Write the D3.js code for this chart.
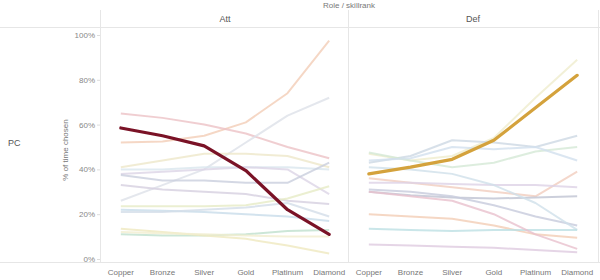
<!DOCTYPE html>
<html lang="en">
<head>
  <meta charset="UTF-8">
  <title>Role / skillrank</title>
  <script src="https://d3js.org/d3.v7.min.js"></script>
  <style>
    body { margin: 0; background: #fff; font-family: "Liberation Sans", Arial, sans-serif; }
    .frame { stroke: #e6e6e6; stroke-width: 1; }
    .lbl { fill: #777; font-size: 8px; }
    .hdr { fill: #555; font-size: 9px; }
  </style>
</head>
<body>
  <div id="chart"></div>
  <script>
    // categories and tick labels
    const ranks = ["Copper", "Bronze", "Silver", "Gold", "Platinum", "Diamond"];
    const roles = ["Att", "Def"];
    const yTicks = [0, 0.2, 0.4, 0.6, 0.8, 1.0];

    // Att panel, faint operators (% of time chosen)
    const attFaint = [
      [52, 52.5, 55, 61, 74, 97.5],
      [65, 63, 60, 56, 50, 45],
      [26, 33, 40, 52, 64, 72],
      [41, 44, 47, 47, 46, 41],
      [40, 40, 41, 41, 41, 40],
      [38, 39, 40, 41, 40, 29],
      [37.5, 35, 35, 34, 34, 43],
      [33, 31, 30, 29, 26, 24.5],
      [23.5, 23.5, 23.5, 24, 27, 32.5],
      [22, 21.5, 21, 20, 19, 17],
      [21, 21, 22, 23, 25, 19],
      [11, 10.5, 10.5, 11, 12.5, 13],
      [13.5, 12, 10.5, 9, 6, 2.5],
      [12, 11.5, 11, 10.5, 10, 10]
    ];
    const attColors = [
      "#f3cdb6", "#ecc2c6", "#dde1e8", "#eee7c9", "#d9e6ee", "#dcd4e6",
      "#c9cedd", "#d6cfe0", "#e6ebc6", "#c8dcea", "#d3dde8", "#bfe0cd",
      "#efe9bf", "#f1edcf"
    ];
    const attMain = [58.5, 55, 50.5, 39.5, 22, 11];

    // Def panel, faint operators
    const defFaint = [
      [47, 44, 46, 54, 72, 89],
      [43, 46, 53, 52, 50, 55],
      [47.5, 44, 41, 43, 48, 50],
      [44, 45, 50, 49, 50, 44],
      [36, 34, 32, 30, 28, 39],
      [34, 34, 33.5, 33, 33, 32],
      [30, 28.5, 27.5, 27, 27.5, 28],
      [31, 30, 28, 24, 19, 15],
      [41, 40, 38, 33, 25, 13],
      [20, 19, 18, 15, 11, 9.5],
      [13.5, 13, 12.5, 13, 13, 13],
      [6.5, 6, 5.5, 5, 4, 3],
      [30, 28, 26, 20, 11, 4.5]
    ];
    const defColors = [
      "#efeccd", "#cdd8e4", "#d4e8d6", "#d2e0ee", "#f1cdbe", "#ddd2e6",
      "#bfc3d2", "#c7cbdc", "#cfe0ea", "#f2cdb5", "#bde0e3", "#dfcbe0",
      "#e8c1cd"
    ];
    const defMain = [38, 41, 44.5, 53, 67.5, 82];

    const mainColors = ["#7a1226", "#d4a23c"];

    const W = 600, H = 280;
    const panelX = [100, 348], panelW = 250;
    const yTop = 35, yBot = 259;

    const svg = d3.select("#chart").append("svg")
      .attr("width", W).attr("height", H);

    const y = d3.scaleLinear().domain([0, 1]).range([yBot, yTop]);

    // frame lines
    svg.append("line").attr("class", "frame")
      .attr("x1", 0).attr("x2", W).attr("y1", 27.5).attr("y2", 27.5);
    svg.append("line").attr("class", "frame")
      .attr("x1", 0).attr("x2", W).attr("y1", 262.5).attr("y2", 262.5);
    [100, 348, 598].forEach(px => {
      svg.append("line").attr("class", "frame")
        .attr("x1", px + 0.5).attr("x2", px + 0.5).attr("y1", 10).attr("y2", 262);
    });

    svg.append("text").attr("class", "lbl")
      .attr("x", 349).attr("y", 8).attr("text-anchor", "middle")
      .text("Role  /  skillrank");

    svg.append("text").attr("class", "hdr")
      .attr("x", 8).attr("y", 146).text("PC");

    svg.append("text").attr("class", "lbl")
      .attr("transform", `translate(68,150) rotate(-90)`)
      .attr("text-anchor", "middle")
      .text("% of time chosen");

    // y axis
    const yAxis = svg.append("g")
      .attr("transform", `translate(100,0)`)
      .call(d3.axisLeft(y).tickValues(yTicks).tickFormat(d3.format(".0%")).tickSize(3).tickPadding(2));
    yAxis.select(".domain").remove();
    yAxis.selectAll("line").attr("stroke", "#ddd");
    yAxis.selectAll("text").attr("fill", "#888").style("font-size", "8px")
      .style("font-family", "'Liberation Sans', Arial, sans-serif");

    const panels = [
      { faint: attFaint, colors: attColors, main: attMain },
      { faint: defFaint, colors: defColors, main: defMain }
    ];

    const line = x => d3.line()
      .x((d, i) => x(ranks[i]) + x.bandwidth() / 2)
      .y(d => y(d / 100));

    panels.forEach((p, k) => {
      const x = d3.scaleBand().domain(ranks)
        .range([panelX[k], panelX[k] + panelW]);

      svg.append("text").attr("class", "hdr")
        .attr("x", panelX[k] + panelW / 2).attr("y", 22)
        .attr("text-anchor", "middle").text(roles[k]);

      const g = svg.append("g");
      g.selectAll(".faint").data(p.faint).enter().append("path")
        .attr("class", "faint")
        .attr("d", line(x))
        .attr("fill", "none")
        .attr("stroke", (d, i) => p.colors[i])
        .attr("stroke-opacity", 0.8)
        .attr("stroke-width", 2)
        .attr("stroke-linejoin", "round");

      g.append("path").datum(p.main)
        .attr("d", line(x))
        .attr("fill", "none")
        .attr("stroke", mainColors[k])
        .attr("stroke-width", 3.2)
        .attr("stroke-linejoin", "round")
        .attr("stroke-linecap", "round");

      const xAxis = svg.append("g")
        .attr("transform", `translate(0,262)`)
        .call(d3.axisBottom(x).tickSize(0).tickPadding(7));
      xAxis.select(".domain").remove();
      xAxis.selectAll("text").attr("fill", "#777").style("font-size", "8px")
        .style("font-family", "'Liberation Sans', Arial, sans-serif");
    });
  </script>
</body>
</html>
